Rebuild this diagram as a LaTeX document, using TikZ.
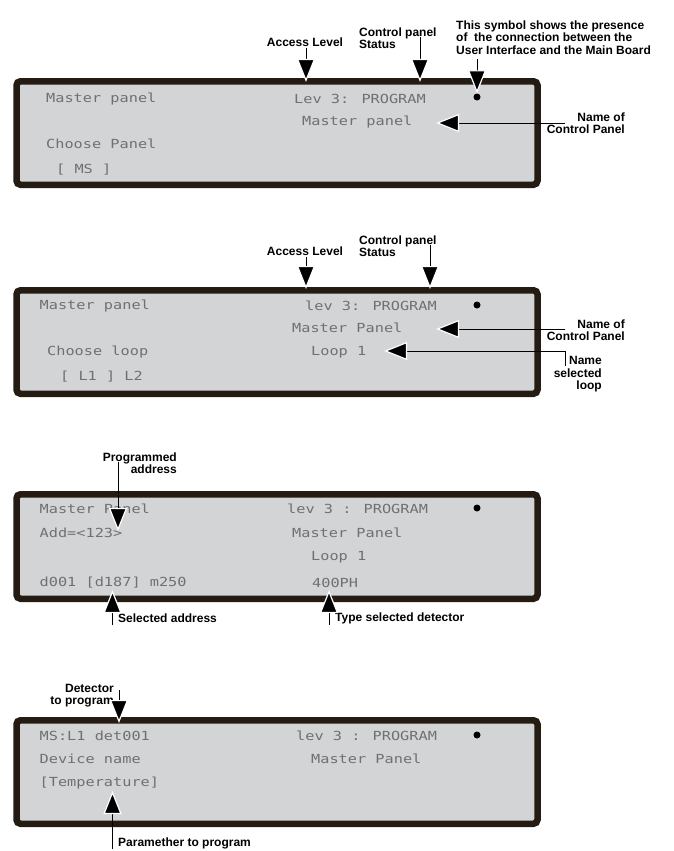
\documentclass[tikz,border=0pt]{standalone}
\usepackage{fontspec}
\usepackage{xcolor}
\usetikzlibrary{arrows.meta}
\setmainfont{Liberation Sans}
\newfontfamily\lcdfont[FakeStretch=1.22]{DejaVu Sans Mono}
\definecolor{lcdbg}{HTML}{D3D4D6}
\definecolor{lcdframe}{HTML}{241C12}
\definecolor{lcdtext}{HTML}{707070}

\begin{document}
\begin{tikzpicture}[x=1pt, y=-1pt,
  lcd/.style={anchor=west, inner sep=0pt, text=lcdtext, font=\lcdfont\fontsize{12.5}{14}\selectfont},
  lbl/.style={inner sep=1pt, font=\bfseries\fontsize{12}{12.5}\selectfont},
  panel/.style={draw=lcdframe, fill=lcdbg, line width=6.5pt, rounded corners=4pt},
  ptr/.style={line width=1pt, -{Triangle[length=23pt, width=18pt, color=white, fill=black, line width=1.2pt]}},
  plug/.style={circle, fill=black, inner sep=0pt, minimum size=7pt}]
  \useasboundingbox (0,0) rectangle (673,851);

  % Panel 1
  \draw[panel] (16.5,81.25) rectangle (537.5,184.75);
  \node[lcd] (m1a) at (46,99) {Master panel};
  \node[lcd] (m1b) at (294,99) {Lev 3: PROGRAM};
  \node[plug] (p1) at (477,97) {};
  \node[lcd] (m1c) at (302,122) {Master panel};
  \node[lcd] (m1d) at (46,144) {Choose Panel};
  \node[lcd] (m1e) at (56,170) {[ MS ]};
  \node[lbl] (acc1) at (305,42) {Access Level};
  \node[lbl, align=left, anchor=west] (cps1) at (358,38) {Control panel\\Status};
  \node[lbl, align=left, anchor=west] (sym1) at (455,37.5) {This symbol shows the presence\\of \ the connection between the\\User Interface and the Main Board};
  \node[lbl, align=right, anchor=east] (nam1) at (626,123) {Name of\\Control Panel};
  \coordinate (acc1t) at (306,82);
  \coordinate (cps1s) at (420,37);
  \coordinate (cps1t) at (420,82);
  \coordinate (sym1s) at (477,59);
  \coordinate (nam1s) at (565,123);
  \coordinate (nam1t) at (436,123);
  \draw[ptr] (acc1.south -| acc1t) -- (acc1t);
  \draw[ptr] (cps1s) -- (cps1t);
  \draw[ptr] (sym1s) -- (p1.north);
  \draw[ptr] (nam1s) -- (nam1t);

  % Panel 2
  \draw[panel] (16.5,290.25) rectangle (537.5,393.75);
  \node[lcd] (m2a) at (39.5,306) {Master panel};
  \node[lcd] (m2b) at (305,306) {lev 3: PROGRAM};
  \node[plug] (p2) at (477,305) {};
  \node[lcd] (m2c) at (292,328) {Master Panel};
  \node[lcd] (m2d) at (47,352) {Choose loop};
  \node[lcd] (m2e) at (311,352) {Loop 1};
  \node[lcd] (m2f) at (60,377) {[ L1 ] L2};
  \node[lbl] (acc2) at (305,251) {Access Level};
  \node[lbl, align=left, anchor=west] (cps2) at (358,246) {Control panel\\Status};
  \node[lbl, align=right, anchor=east] (nam2) at (626,330) {Name of\\Control Panel};
  \node[lbl, align=right, anchor=east] (loo2) at (603,374.5) {Name\\selected\\loop};
  \coordinate (acc2t) at (306,289);
  \coordinate (cps2s) at (430,245);
  \coordinate (cps2t) at (430,289);
  \coordinate (nam2s) at (565,329);
  \coordinate (nam2t) at (436,329);
  \coordinate (loo2s) at (565,366);
  \coordinate (loo2t) at (384,351);
  \draw[ptr] (acc2.south -| acc2t) -- (acc2t);
  \draw[ptr] (cps2s) -- (cps2t);
  \draw[ptr] (nam2s) -- (nam2t);
  \draw[ptr] (loo2s) |- (loo2t);

  % Panel 3
  \draw[panel] (16.5,494.25) rectangle (537.5,598.75);
  \node[lcd] (m3a) at (39.5,509) {Master Panel};
  \node[lcd] (m3b) at (287,509) {lev 3 : PROGRAM};
  \node[plug] (p3) at (477,508) {};
  \node[lcd] (m3c) at (39.5,533) {Add=<123>};
  \node[lcd] (m3d) at (292,533) {Master Panel};
  \node[lcd] (m3e) at (311,557) {Loop 1};
  \node[lcd] (m3f) at (39.5,583) {d001 [d187] m250};
  \node[lcd] (m3g) at (312,583) {400PH};
  \node[lbl, align=right, anchor=east] (adr3) at (178,463) {Programmed\\address};
  \node[lbl, anchor=west] (sel3) at (117,618) {Selected address};
  \node[lbl, anchor=west] (typ3) at (334,618) {Type selected detector};
  \coordinate (adr3s) at (118,462);
  \coordinate (adr3t) at (118,531);
  \coordinate (sel3s) at (112.5,625);
  \coordinate (sel3t) at (112.5,590);
  \coordinate (typ3s) at (329,625);
  \coordinate (typ3t) at (329,590);
  \draw[ptr] (adr3s) -- (adr3t);
  \draw[ptr] (sel3s) -- (sel3t);
  \draw[ptr] (typ3s) -- (typ3t);

  % Panel 4
  \draw[panel] (16.5,720.25) rectangle (537.5,823.75);
  \node[lcd] (m4a) at (39.5,736) {MS:L1 det001};
  \node[lcd] (m4b) at (296,736) {lev 3 : PROGRAM};
  \node[plug] (p4) at (477,735) {};
  \node[lcd] (m4c) at (39.5,759) {Device name};
  \node[lcd] (m4d) at (311,759) {Master Panel};
  \node[lcd] (m4e) at (39.5,783) {[Temperature]};
  \node[lbl, align=right, anchor=east] (det4) at (115,695.5) {Detector\\to program};
  \node[lbl, anchor=west] (par4) at (117,843) {Paramether to program};
  \coordinate (det4s) at (119,690);
  \coordinate (det4t) at (119,723);
  \coordinate (par4s) at (112.5,849);
  \coordinate (par4t) at (112.5,791);
  \draw[ptr] (det4s) -- (det4t);
  \draw[ptr] (par4s) -- (par4t);
\end{tikzpicture}
\end{document}
